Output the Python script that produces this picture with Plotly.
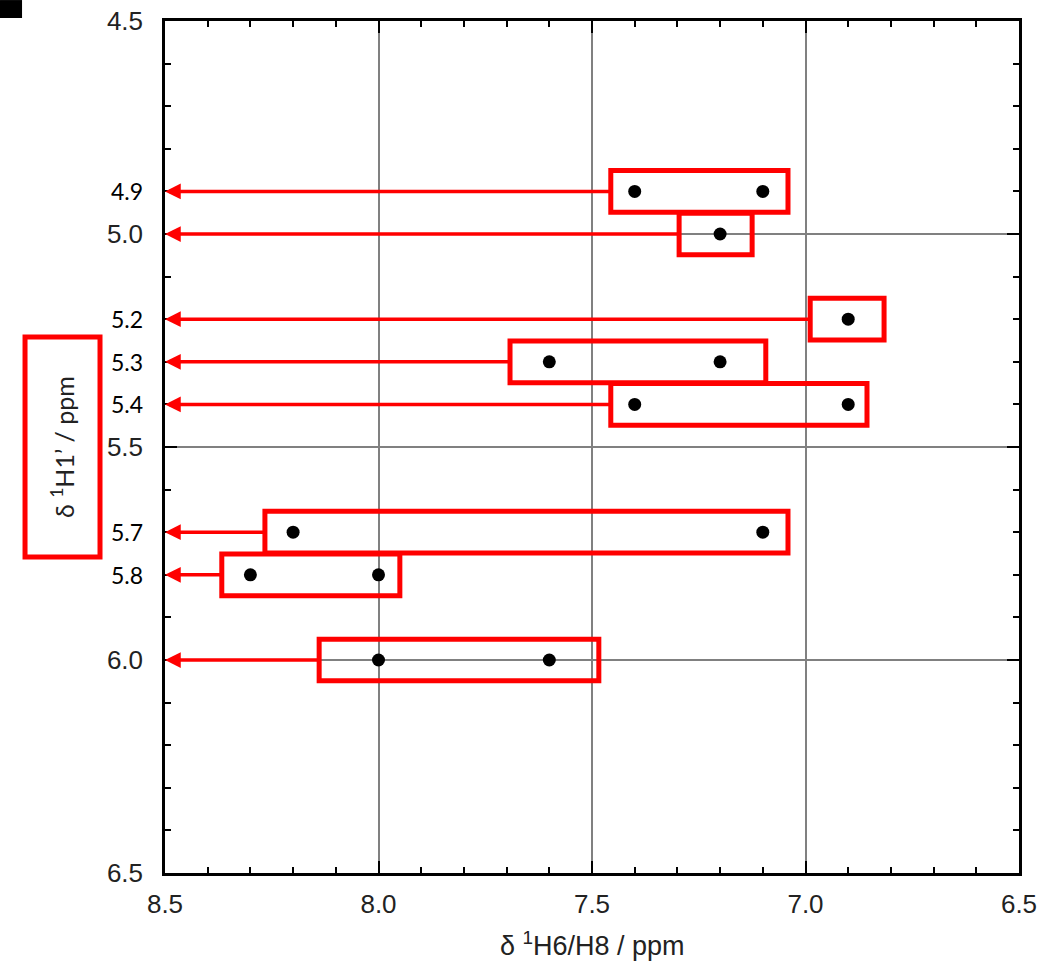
import plotly.graph_objects as go

# ---- data ----
group_h1 = [4.9, 5.0, 5.2, 5.3, 5.4, 5.7, 5.8, 6.0]            # δ 1H1' (ppm) of each group
group_h6h8 = [[7.4, 7.1], [7.2], [6.9], [7.6, 7.2], [7.4, 6.9],
              [8.2, 7.1], [8.3, 8.0], [8.0, 7.6]]               # δ 1H6/H8 (ppm) of the points
box_left = [7.456, 7.296, 6.989, 7.692, 7.456, 8.266, 8.367, 8.139]   # box extent (ppm)
box_right = [7.041, 7.125, 6.816, 7.093, 6.856, 7.041, 7.950, 7.484]
major_ticks_y = [4.5, 5.0, 5.5, 6.0, 6.5]
major_ticks_x = [8.5, 8.0, 7.5, 7.0, 6.5]
extra_labels_y = [4.9, 5.2, 5.3, 5.4, 5.7, 5.8]

RED = "#ff0000"
ARIAL = "Liberation Sans, Arial, sans-serif"
CALIBRI = "Lato, sans-serif"

xs, ys = [], []
for h1, pts in zip(group_h1, group_h6h8):
    for p in pts:
        xs.append(p)
        ys.append(h1)

fig = go.Figure()
fig.add_trace(go.Scatter(x=xs, y=ys, mode="markers",
                         marker=dict(color="black", size=13),
                         showlegend=False, hoverinfo="x+y"))

box_half = 0.049
shapes = []
annotations = []
for h1, l, r in zip(group_h1, box_left, box_right):
    shapes.append(dict(type="rect", xref="x", yref="y", x0=l, x1=r,
                       y0=h1 - box_half, y1=h1 + box_half,
                       line=dict(color=RED, width=5), layer="above"))
    annotations.append(dict(x=8.5, y=h1, xref="x", yref="y",
                            ax=l, ay=h1, axref="x", ayref="y",
                            text="", showarrow=True, arrowhead=2,
                            arrowsize=0.9, arrowwidth=3.5, arrowcolor=RED,
                            standoff=0, startstandoff=0))

for v in extra_labels_y:
    annotations.append(dict(x=-0.024, y=v, xref="paper", yref="y",
                            xanchor="right", yanchor="middle", showarrow=False,
                            text=f"{v:.1f}", font=dict(family=CALIBRI, size=23, color="black")))

# y-axis title in a red frame
shapes.append(dict(type="rect", xref="paper", yref="paper",
                   x0=-0.1639, x1=-0.0761, y0=0.3709, y1=0.6291,
                   line=dict(color=RED, width=5)))
annotations.append(dict(x=-0.1206, y=0.5, xref="paper", yref="paper",
                        text="δ <sup>1</sup>H1’ / ppm", textangle=-90, showarrow=False,
                        xanchor="center", yanchor="middle",
                        font=dict(family=CALIBRI, size=25, color="#222")))
# x-axis title
annotations.append(dict(x=0.5, y=-0.083, xref="paper", yref="paper",
                        text="δ <sup>1</sup>H6/H8 / ppm", showarrow=False,
                        xanchor="center", yanchor="middle",
                        font=dict(family=ARIAL, size=27, color="#222")))
# small black mark at the top-left corner of the figure
shapes.append(dict(type="rect", xref="paper", yref="paper",
                   x0=-0.1932, x1=-0.1674, y0=1.0035, y1=1.0246,
                   line=dict(width=0), fillcolor="black"))

axis_common = dict(showline=True, linecolor="black", linewidth=2.5, mirror="ticks",
                   ticks="inside", ticklen=12, tickwidth=2, tickcolor="black",
                   showgrid=True, gridcolor="#808080", gridwidth=1.5,
                   zeroline=False, automargin=False,
                   minor=dict(ticks="inside", ticklen=6, tickwidth=2,
                              tickcolor="black", dtick=0.1, showgrid=False),
                   tickfont=dict(family=ARIAL, size=26, color="#222"))

fig.update_xaxes(range=[8.5, 6.5], tickvals=major_ticks_x,
                 ticktext=[f"{v:.1f}" for v in major_ticks_x],
                 ticklabelstandoff=6, **axis_common)
fig.update_yaxes(range=[6.5, 4.5], tickvals=major_ticks_y,
                 ticktext=[f"{v:.1f}" for v in major_ticks_y],
                 ticklabelstandoff=14, **axis_common)

fig.update_layout(width=1041, height=965,
                  margin=dict(l=165, r=22, t=21, b=92, autoexpand=False),
                  paper_bgcolor="white", plot_bgcolor="white",
                  shapes=shapes, annotations=annotations, showlegend=False)

fig.write_html("out.html", config={"displayModeBar": False},
               post_script="document.body.style.margin='0';document.body.style.overflow='hidden';")
